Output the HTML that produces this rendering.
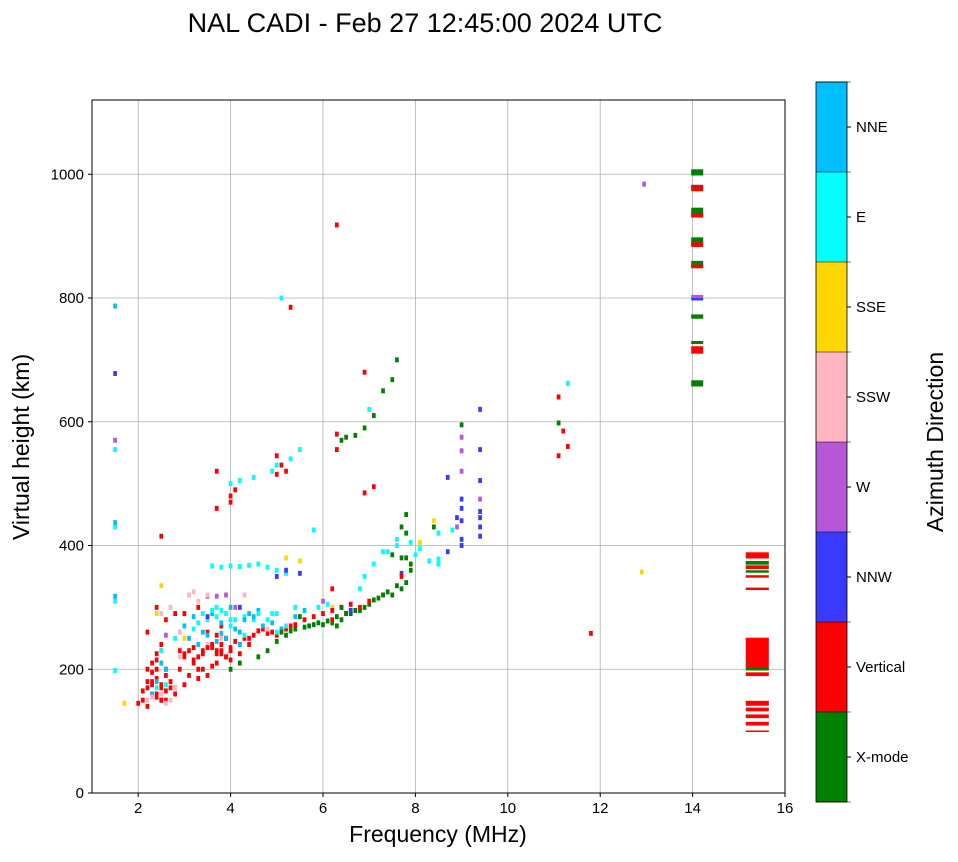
<!DOCTYPE html>
<html><head><meta charset="utf-8"><style>
html,body{margin:0;padding:0;background:#fff;}
svg text{font-family:"Liberation Sans",sans-serif;}
</style></head><body>
<svg id="chart" width="958" height="857" viewBox="0 0 958 857" xmlns="http://www.w3.org/2000/svg">
<text x="425" y="32" font-size="27" text-anchor="middle">NAL CADI - Feb 27 12:45:00 2024 UTC</text>
<g id="grid"></g>
<g id="marks"></g>
<rect x="92" y="100" width="693" height="693" fill="none" stroke="#000" stroke-width="1"/>
<g id="axes"></g>
<text x="438" y="842" font-size="23" text-anchor="middle">Frequency (MHz)</text>
<text transform="translate(29,447) rotate(-90)" font-size="23" text-anchor="middle">Virtual height (km)</text>
<g id="cbar"></g>
<text transform="translate(943,442) rotate(-90)" font-size="23" text-anchor="middle">Azimuth Direction</text>
</svg>
<script>
const categories=["X-mode","Vertical","NNW","W","SSW","SSE","E","NNE"];
const colors=["#008000","#ff0000","#3a3aff","#b856d8","#ffb6c1","#ffd700","#00ffff","#00bfff"];
const xTicks=[2,4,6,8,10,12,14,16];
const yTicks=[0,200,400,600,800,1000];
const freqs=[2.0,2.1,2.3,2.3,2.4,2.4,2.5,2.5,2.6,2.2,2.3,2.4,2.5,2.7,2.8,2.9,2.9,3.0,3.1,3.2,3.3,3.4,3.5,3.6,3.7,3.8,3.9,4.0,4.1,4.3,4.5,4.7,4.9,5.1,5.3,2.2,2.6,3.0,3.3,3.7,4.2,2.4,2.6,2.8,3.8,2.2,2.5,6.3,5.3,
4.0,4.2,4.6,4.8,5.0,5.2,5.4,5.6,5.8,6.0,6.2,6.4,6.6,6.8,7.0,7.2,7.4,7.6,7.8,7.9,7.8,7.8,7.8,6.5,6.7,6.9,7.1,7.3,7.5,7.6,6.4,5.5,6.3,7.5,7.7,8.4,9.0,11.1,
1.5,1.5,1.5,1.5,3.6,3.8,4.0,4.2,4.4,4.6,4.8,5.0,5.2,3.3,3.5,3.7,3.9,4.1,4.3,4.5,4.8,5.0,5.4,3.2,4.0,4.2,4.5,4.9,5.0,5.3,5.5,6.9,7.1,7.3,7.6,7.9,8.1,8.3,8.5,8.8,5.8,5.9,6.1,7.0,2.8,2.4,3.9,4.3,5.1,11.3,
1.5,1.5,1.5,3.0,3.4,4.6,4.2,3.8,
2.5,2.7,2.8,2.6,3.1,3.2,2.9,3.5,2.7,
1.7,2.4,2.5,5.2,5.5,8.1,8.4,12.9,3.0,6.2,
1.5,3.5,3.7,3.9,4.1,8.9,9.0,9.0,9.0,9.4,12.95,2.6,6.0,
1.5,8.7,8.9,9.0,9.0,9.0,9.0,9.0,9.4,9.4,9.4,9.4,9.4,9.4,9.4,8.7,5.5,7.7,
4.0,4.1,3.7,3.7,4.0,5.0,5.1,5.2,6.3,6.9,6.3,6.9,7.7,11.1,11.2,11.3,11.1,11.8,6.2,7.1,5.0,
2.1,2.2,2.3,2.4,2.5,2.6,2.3,2.4,2.5,2.2,2.4,2.6,2.7,2.8,3.0,3.1,3.2,3.3,3.4,3.5,3.6,3.7,3.8,3.9,4.0,3.2,3.4,3.6,3.8,4.0,4.2,4.4,3.5,3.7,3.9,4.4,4.6,4.8,5.0,5.2,5.4,5.6,5.8,6.0,6.2,6.4,6.6,6.2,6.5,6.8,7.0,7.3,3.0,3.3,2.5,
2.4,2.6,2.9,3.1,3.3,3.5,3.7,3.9,4.1,4.3,4.5,4.7,4.9,5.1,3.6,3.8,4.0,4.4,2.3,2.5,3.2,4.2,4.6,5.4,5.6,
2.2,2.3,2.6,2.9,3.3,3.5,4.3,4.8,2.5,3.8,
3.8,4.0,4.9,5.0,5.2,2.6,2.5,3.4,3.6,3.7,4.0,4.6,6.8,7.4,7.6,8.0,8.5,8.5,
5.1,5.3,5.7,5.9,6.1,6.3,6.5,6.7,6.9,7.1,7.3,7.5,7.7,7.7,6.4,6.6,7.9,
3.5,4.2,5.2,5.0,6.6];
const heights=[145,150,160,175,185,200,170,150,165,140,210,225,240,180,170,200,230,220,190,210,200,230,190,235,225,240,220,230,245,250,255,265,260,262,270,200,200,175,185,210,240,300,280,290,270,260,415,918,785,
200,210,220,230,245,255,265,268,272,272,275,280,290,295,305,315,325,335,340,360,380,420,450,575,578,590,610,650,668,700,570,285,270,385,430,430,595,598,
555,430,310,198,367,365,367,366,368,370,365,360,355,275,280,285,290,280,285,280,280,290,300,265,500,505,510,520,530,540,555,350,370,390,410,405,395,375,420,425,425,300,305,620,250,170,250,255,800,662,
787,318,437,270,260,290,260,258,
160,150,170,190,320,325,220,240,300,
145,290,335,380,375,405,440,357,250,300,
570,318,318,320,300,430,575,553,520,475,984,255,310,
678,510,445,475,460,440,410,400,455,445,430,415,505,555,620,390,355,355,
480,490,460,520,470,515,530,520,580,680,555,485,350,640,585,560,545,258,330,495,545,
165,170,180,155,175,190,195,215,230,180,160,150,170,160,225,230,235,220,225,235,240,230,225,220,235,215,200,205,230,215,225,250,260,255,250,240,262,258,255,265,272,280,285,290,295,300,305,280,290,300,310,320,290,300,150,
180,200,260,250,240,255,245,250,265,280,285,270,275,265,290,275,300,290,160,210,285,240,295,285,295,
150,155,145,260,310,320,320,265,290,250,
295,270,290,260,270,175,230,290,295,300,280,290,330,390,400,385,370,378,
260,262,270,275,278,285,290,295,300,312,320,320,330,380,300,295,370,
285,300,360,350,295];
const dirs=[1,1,1,1,1,1,1,1,1,1,1,1,1,1,1,1,1,1,1,1,1,1,1,1,1,1,1,1,1,1,1,1,1,1,1,1,1,1,1,1,1,1,1,1,1,1,1,1,1,
0,0,0,0,0,0,0,0,0,0,0,0,0,0,0,0,0,0,0,0,0,0,0,0,0,0,0,0,0,0,0,0,0,0,0,0,0,0,
6,6,6,6,6,6,6,6,6,6,6,6,6,6,6,6,6,6,6,6,6,6,6,6,6,6,6,6,6,6,6,6,6,6,6,6,6,6,6,6,6,6,6,6,6,6,6,6,6,6,
7,7,7,7,7,7,7,7,
4,4,4,4,4,4,4,4,4,
5,5,5,5,5,5,5,5,5,5,
3,3,3,3,3,3,3,3,3,3,3,3,3,
2,2,2,2,2,2,2,2,2,2,2,2,2,2,2,2,2,2,
1,1,1,1,1,1,1,1,1,1,1,1,1,1,1,1,1,1,1,1,1,
1,1,1,1,1,1,1,1,1,1,1,1,1,1,1,1,1,1,1,1,1,1,1,1,1,1,1,1,1,1,1,1,1,1,1,1,1,1,1,1,1,1,1,1,1,1,1,1,1,1,1,1,1,1,1,
7,7,7,7,7,7,7,7,7,7,7,7,7,7,7,7,7,7,7,7,7,7,7,7,7,
4,4,4,4,4,4,4,4,4,4,
6,6,6,6,6,6,6,6,6,6,6,6,6,6,6,6,6,6,
0,0,0,0,0,0,0,0,0,0,0,0,0,0,0,0,0,
2,2,2,2,2];
/* column echoes near 14.1 and 15.4 MHz */
const colFreq=[14.1,14.1,14.1,14.1,14.1,14.1,14.1,14.1,14.1,14.1,14.1,14.1,14.1,14.1,14.1,14.1,14.1,14.1,14.1,
15.4,15.4,15.4,15.4,15.4,15.4,15.4,15.4,15.4,15.4,15.4,15.4,15.4,15.4];
const colH=[1003,980,975,940,932,893,885,855,850,802,798,770,728,716,662,980,935,888,852,
384,372,365,358,350,330,226,200,192,145,135,124,112,100];
const colSpan=[10,6,5,12,4,10,5,10,4,6,4,7,5,12,10,4,4,4,4,
10,6,6,4,4,4,50,4,6,8,6,6,6,2];
const colD=[0,0,1,0,1,0,1,0,1,3,2,0,0,1,0,1,1,1,1,
1,0,1,0,1,1,1,0,1,1,1,1,1,1];

const X0=92,X1=785,Y0=793,Y1=100;
const xs=f=>X0+(f-1)/15*(X1-X0);
const ys=h=>Y0-h/1120*(Y0-Y1);
const NS="http://www.w3.org/2000/svg";
function mk(tag,attrs,parent){const e=document.createElementNS(NS,tag);for(const k in attrs)e.setAttribute(k,attrs[k]);parent.appendChild(e);return e;}
const grid=document.getElementById('grid'),axes=document.getElementById('axes'),marks=document.getElementById('marks'),cbar=document.getElementById('cbar');
xTicks.forEach(t=>{const x=xs(t);
 const g=mk('line',{x1:x,x2:x,y1:Y1,y2:Y0,stroke:'#b0b0b0','stroke-width':0.8},grid);
 
 mk('line',{x1:x,x2:x,y1:Y0,y2:Y0+4,stroke:'#000'},axes);
 const tx=mk('text',{x:x,y:Y0+20,'font-size':15,'text-anchor':'middle'},axes);tx.textContent=t;
 });
yTicks.forEach(t=>{const y=ys(t);
 const g=mk('line',{x1:X0,x2:X1,y1:y,y2:y,stroke:'#b0b0b0','stroke-width':0.8},grid);
 
 mk('line',{x1:X0-4,x2:X0,y1:y,y2:y,stroke:'#000'},axes);
 const tx=mk('text',{x:X0-8,y:y+5,'font-size':15,'text-anchor':'end'},axes);tx.textContent=t;
 });
const cw=xs(1.08)-xs(1), ch=ys(0)-ys(8);
for(let i=0;i<freqs.length;i++){
 const r=mk('rect',{x:xs(freqs[i])-cw/2,y:ys(heights[i])-ch/2,width:cw,height:ch,fill:colors[dirs[i]]},marks);
 }
for(let i=0;i<colFreq.length;i++){
 const half=colFreq[i]>15?0.25:0.13;
 const r=mk('rect',{x:xs(colFreq[i]-half),y:ys(colH[i]+colSpan[i]/2),width:xs(colFreq[i]+half)-xs(colFreq[i]-half),height:Math.max(1.5,ys(0)-ys(colSpan[i])),fill:colors[colD[i]]},marks);
 }
const CB0=82,CB1=802,bh=(CB1-CB0)/8;
categories.forEach((c,i)=>{const y=CB1-(i+1)*bh;
 const r=mk('rect',{x:816,y:y,width:31,height:bh,fill:colors[i]},cbar);
 
 mk('line',{x1:847,x2:851,y1:y+bh/2,y2:y+bh/2,stroke:'#000'},cbar);
 const tx=mk('text',{x:856,y:y+bh/2+5,'font-size':15},cbar);tx.textContent=c;
 });
for(let i=0;i<=8;i++){mk('line',{x1:816,x2:851,y1:CB0+i*bh,y2:CB0+i*bh,stroke:'#000','stroke-width':0.6},cbar);}
mk('rect',{x:816,y:CB0,width:31,height:CB1-CB0,fill:'none',stroke:'#000','stroke-width':0.8},cbar);
</script>
</body></html>
